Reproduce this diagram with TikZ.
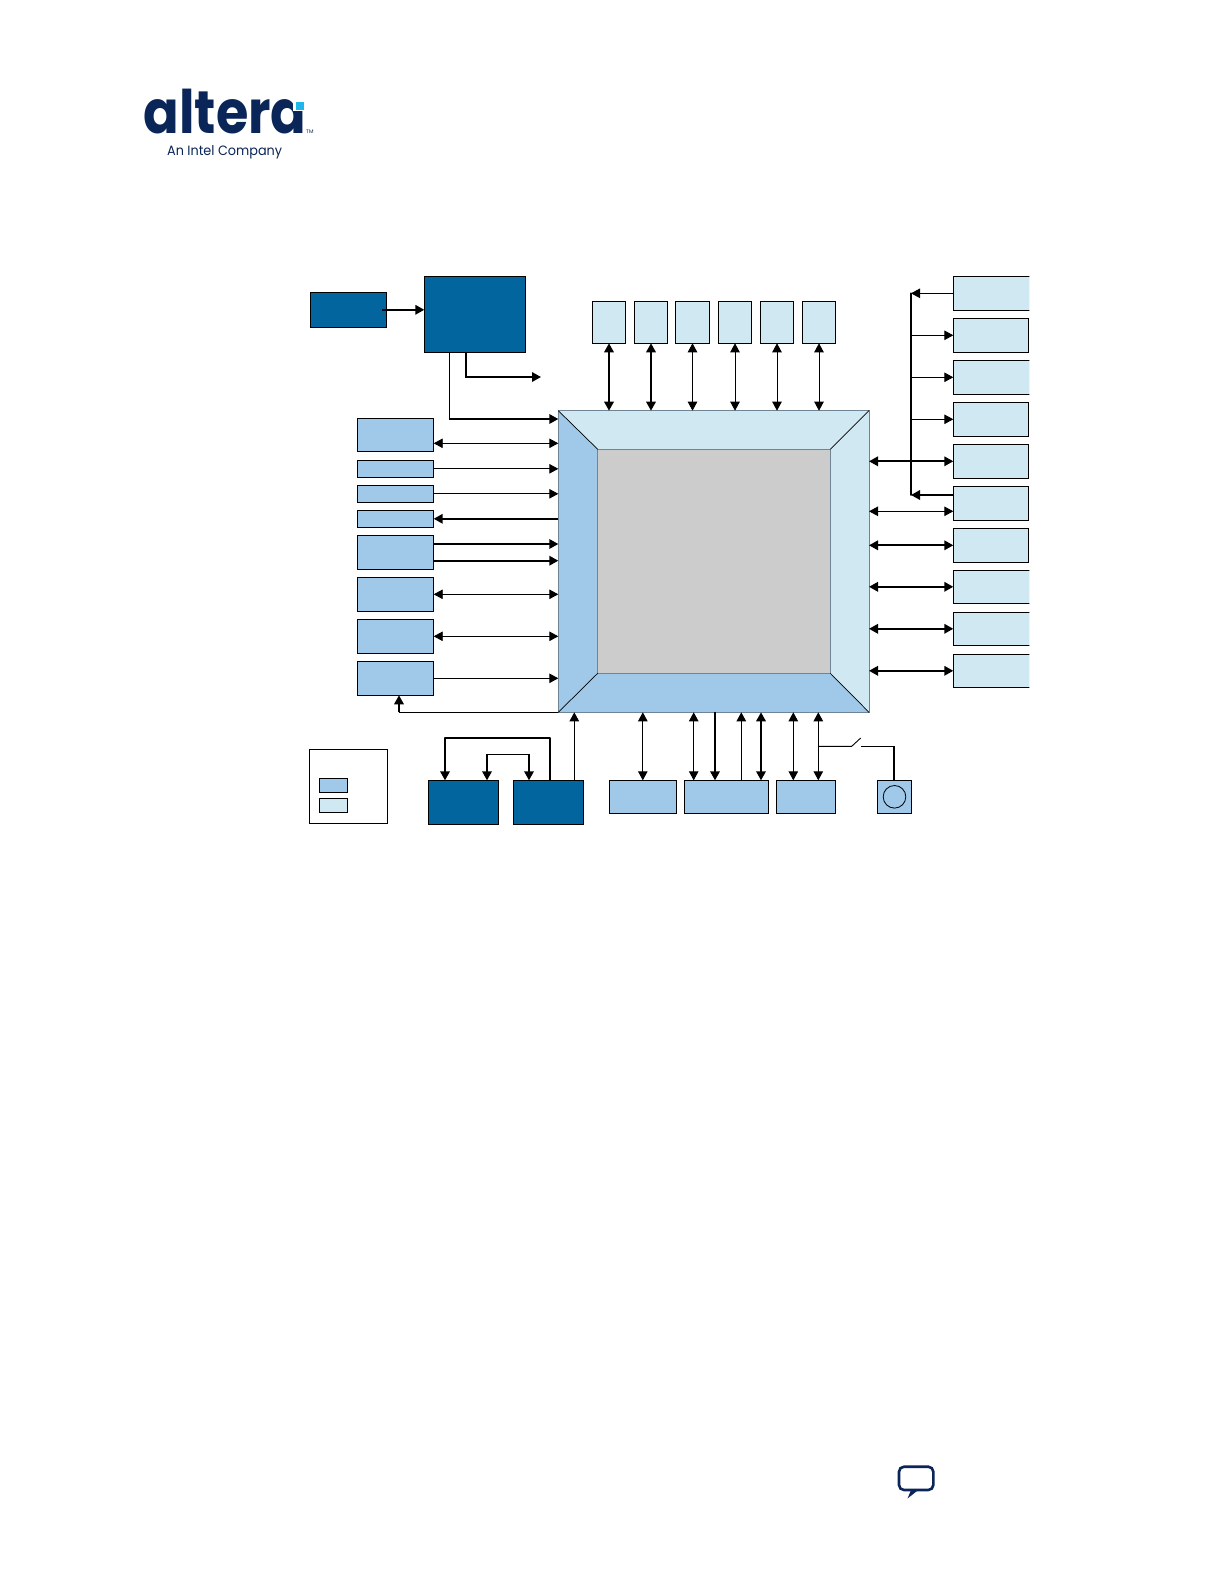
\documentclass[tikz,border=0pt]{standalone}
\usepackage{fontspec}
\setmainfont{Poppins}
\usetikzlibrary{arrows.meta}
\definecolor{ink}{HTML}{0A2558}
\definecolor{logocyan}{HTML}{1FB6EE}
\definecolor{darkb}{HTML}{02659D}
\definecolor{midb}{HTML}{9FC8E9}
\definecolor{lightb}{HTML}{D0E8F1}
\definecolor{coregray}{HTML}{CCCCCC}
\definecolor{coreedge}{HTML}{6F8494}
\tikzset{
  boxbase/.style={draw=black,line width=0.9pt,inner sep=0pt,outer sep=0pt,rectangle},
  darkbox/.style={boxbase,fill=darkb},
  midbox/.style={boxbase,fill=midb},
  lightbox/.style={boxbase,fill=lightb},
  plainbox/.style={boxbase,fill=white},
  thinline/.style={draw=black,line width=0.9pt},
  thickline/.style={draw=black,line width=1.8pt},
  oneway/.style={-{Triangle[length=9pt,width=9.5pt]}},
  twoway/.style={{Triangle[length=9pt,width=9.5pt]}-{Triangle[length=9pt,width=9.5pt]}},
  coreface/.style={draw=coreedge,line width=0.8pt,line join=miter},
  corediag/.style={draw=black,line width=0.7pt},
}
\newcommand{\bx}[6]{%
  \pgfmathsetmacro{\bxw}{#5-#3}\pgfmathsetmacro{\bxh}{#6-#4}%
  \pgfmathsetmacro{\bxcx}{(#3+#5)/2}\pgfmathsetmacro{\bxcy}{(#4+#6)/2}%
  \node[#1,minimum width=\bxw pt,minimum height=\bxh pt] (#2) at (\bxcx,\bxcy) {};}
\begin{document}
\begin{tikzpicture}[x=1pt,y=-1pt]
\useasboundingbox (0,0) rectangle (1224,1584);
\fill[white] (0,0) rectangle (1224,1584);

% logo
\node[inner sep=0pt,anchor=base west,text=ink,xscale=0.875,text depth=0pt] (logo) at (143.5,133.5) {\fontsize{60}{60}\selectfont\bfseries altera};
\fill[white] (293,99) rectangle (306,111);
\fill[logocyan] (295.7,102.3) rectangle (304,110);
\node[inner sep=0pt,anchor=base west,text=ink] (tm) at (306,133.5) {\fontsize{5.2}{5.2}\selectfont TM};
\node[inner sep=0pt,anchor=base west,text=ink,xscale=0.95,text height=10pt] (tag) at (167,155) {\fontsize{13.5}{13.5}\selectfont An Intel Company};

% core
\bx{draw=none,inner sep=0pt,outer sep=0pt,rectangle}{core}{558.3}{410.7}{869}{712.3}
\bx{draw=none,inner sep=0pt,outer sep=0pt,rectangle}{inner}{597.7}{449.3}{830.3}{673.3}
\fill[lightb] (core.north west) -- (core.north east) -- (inner.north east) -- (inner.north west) -- cycle;
\fill[lightb] (core.north east) -- (core.south east) -- (inner.south east) -- (inner.north east) -- cycle;
\fill[midb] (core.north west) -- (core.south west) -- (inner.south west) -- (inner.north west) -- cycle;
\fill[midb] (core.south west) -- (core.south east) -- (inner.south east) -- (inner.south west) -- cycle;
\fill[coregray] (inner.north west) rectangle (inner.south east);
\draw[coreface] (core.north west) rectangle (core.south east);
\draw[coreface] (inner.north west) rectangle (inner.south east);
\draw[corediag] (core.north west) -- (inner.north west);
\draw[corediag] (core.north east) -- (inner.north east);
\draw[corediag] (core.south west) -- (inner.south west);
\draw[corediag] (core.south east) -- (inner.south east);

% top-left dark boxes
\bx{darkbox}{srcbox}{310.3}{292.3}{386.7}{327.3}
\bx{darkbox}{pllbox}{424.3}{276.3}{525.7}{352.7}

% left boxes
\bx{midbox}{lA}{357.3}{418.3}{433.7}{451.3}
\bx{midbox}{lB}{357.3}{460.3}{433.7}{477.3}
\bx{midbox}{lC}{357.3}{485.3}{433.7}{502.3}
\bx{midbox}{lD}{357.3}{510.3}{433.7}{527.3}
\bx{midbox}{lE}{357.3}{535.3}{433.7}{569.3}
\bx{midbox}{lF}{357.3}{577.3}{433.7}{611.3}
\bx{midbox}{lG}{357.3}{619.3}{433.7}{653.3}
\bx{midbox}{lH}{357.3}{661.3}{433.7}{695.3}

% top boxes
\bx{lightbox}{tA}{592.3}{301.3}{625.7}{343.3}
\bx{lightbox}{tB}{634.3}{301.3}{667.7}{343.3}
\bx{lightbox}{tC}{675.3}{301.3}{709.7}{343.3}
\bx{lightbox}{tD}{718.3}{301.3}{751.7}{343.3}
\bx{lightbox}{tE}{760.3}{301.3}{793.7}{343.3}
\bx{lightbox}{tF}{802.3}{301.3}{835.7}{343.3}

% right boxes (some are cut off by the page image at the right)
\begin{scope}
\clip (940,270) rectangle (1029.4,700);
\bx{lightbox}{rA}{953.3}{276.3}{1033}{310.3}
\bx{lightbox}{rC}{953.3}{360.3}{1033}{394.3}
\bx{lightbox}{rH}{953.3}{570.3}{1033}{603.3}
\bx{lightbox}{rI}{953.3}{612.3}{1033}{645.3}
\bx{lightbox}{rJ}{953.3}{654.3}{1033}{687.3}
\end{scope}
\bx{lightbox}{rB}{953.3}{318.3}{1028.7}{352.3}
\bx{lightbox}{rD}{953.3}{402.3}{1028.7}{436.3}
\bx{lightbox}{rE}{953.3}{444.3}{1028.7}{478.3}
\bx{lightbox}{rF}{953.3}{486.3}{1028.7}{520.3}
\bx{lightbox}{rG}{953.3}{528.3}{1028.7}{562.3}

% legend
\bx{plainbox}{legend}{309.3}{749.3}{387.7}{823.7}
\bx{midbox}{legA}{319.3}{778.3}{347.7}{792.7}
\bx{lightbox}{legB}{319.3}{798.3}{347.7}{812.7}

% bottom boxes
\bx{darkbox}{memA}{428.3}{780.3}{498.7}{824.7}
\bx{darkbox}{memB}{513.3}{780.3}{583.7}{824.7}
\bx{midbox}{bA}{609.3}{780.3}{676.3}{813.3}
\bx{midbox}{bB}{684.3}{780.3}{768.7}{813.3}
\bx{midbox}{bC}{776.3}{780.3}{835.7}{813.3}
\bx{midbox}{btn}{877.3}{780.3}{911.7}{813.3}
\node[draw=black,line width=0.8pt,circle,minimum size=22.6pt,inner sep=0pt] (btncirc) at (btn.center) {};

% top-left connectors
\draw[thickline,oneway] ([xshift=-4.7pt]srcbox.east) -- (pllbox.west |- srcbox.east);
\coordinate (freeEnd) at (541,377);
\draw[thickline,oneway] ([xshift=-9.3pt]pllbox.south) |- (freeEnd);
\coordinate (pllCorner) at (449.7,419);
\draw[thinline] ([xshift=-25.3pt]pllbox.south) -- (pllCorner);
\draw[thickline,oneway,shorten <=-0.45pt] (pllCorner) -- (pllCorner -| core.west);

% left connectors
\draw[thinline,twoway] ([yshift=-8.5pt]lA.east) -- ([yshift=-8.5pt]lA.east -| core.west);
\draw[thinline,oneway] (lB.east) -- (lB.east -| core.west);
\draw[thinline,oneway] (lC.east) -- (lC.east -| core.west);
\draw[thickline,oneway] (lD.east -| core.west) -- (lD.east);
\draw[thickline,oneway] ([yshift=8.3pt]lE.east) -- ([yshift=8.3pt]lE.east -| core.west);
\draw[thickline,oneway] ([yshift=-8.4pt]lE.east) -- ([yshift=-8.4pt]lE.east -| core.west);
\draw[thinline,twoway] (lF.east) -- (lF.east -| core.west);
\draw[thinline,twoway] (lG.east) -- (lG.east -| core.west);
\draw[thinline,oneway] (lH.east) -- (lH.east -| core.west);
\coordinate (fbCorner) at (399,712.3);
\draw[thinline] (core.south west) -- (fbCorner);
\draw[thickline,oneway] (fbCorner) -- (fbCorner |- lH.south);

% top connectors
\draw[thickline,twoway] (tA.south) -- (tA.south |- core.north);
\draw[thickline,twoway] (tB.south) -- (tB.south |- core.north);
\draw[thinline,twoway] (tC.south) -- (tC.south |- core.north);
\draw[thinline,twoway] (tD.south) -- (tD.south |- core.north);
\draw[thinline,twoway] (tE.south) -- (tE.south |- core.north);
\draw[thinline,twoway] (tF.south) -- (tF.south |- core.north);

% right bus and connectors
\coordinate (busTop) at (911,293.3);
\coordinate (busBot) at (911,495);
\draw[thickline,line cap=round] (busTop) -- (busBot);
\draw[thinline,oneway] (rA.west) -- (rA.west -| busTop);
\draw[thinline,oneway] (rB.west -| busTop) -- (rB.west);
\draw[thinline,oneway] (rC.west -| busTop) -- (rC.west);
\draw[thinline,oneway] (rD.west -| busTop) -- (rD.west);
\draw[thickline,twoway] (rE.west -| core.east) -- (rE.west);
\draw[thickline,oneway] ([yshift=8.3pt]rF.west) -- (busBot);
\draw[thinline,twoway] ([yshift=-8pt]rF.west -| core.east) -- ([yshift=-8pt]rF.west);
\draw[thickline,twoway] (rG.west -| core.east) -- (rG.west);
\draw[thickline,twoway] (rH.west -| core.east) -- (rH.west);
\draw[thickline,twoway] (rI.west -| core.east) -- (rI.west);
\draw[thickline,twoway] (rJ.west -| core.east) -- (rJ.west);

% bottom-left connectors
\coordinate (outerA) at (445,738);
\coordinate (outerB) at (550,738);
\draw[thickline,oneway,line join=round] (memB.north -| outerB) -- (outerB) -- (outerA) -- (outerA |- memA.north);
\coordinate (innerA) at (487,754.3);
\coordinate (innerB) at (529,754.3);
\draw[thinline] (innerA) -- (innerB);
\draw[thickline,oneway,shorten <=-0.45pt] (innerA) -- (innerA |- memA.north);
\draw[thickline,oneway,shorten <=-0.45pt] (innerB) -- (innerB |- memB.north);
\draw[thinline,oneway] ([xshift=25.8pt]memB.north) -- ([xshift=25.8pt]memB.north |- core.south);

% bottom connectors
\draw[thinline,twoway] (bA.north) -- (bA.north |- core.south);
\draw[thinline,twoway] ([xshift=-32.8pt]bB.north) -- ([xshift=-32.8pt]bB.north |- core.south);
\draw[thickline,oneway] ([xshift=-11.5pt]bB.north |- core.south) -- ([xshift=-11.5pt]bB.north);
\draw[thinline,oneway] ([xshift=14.8pt]bB.north) -- ([xshift=14.8pt]bB.north |- core.south);
\draw[thickline,twoway] ([xshift=34.5pt]bB.north) -- ([xshift=34.5pt]bB.north |- core.south);
\draw[thinline,twoway] ([xshift=-12.7pt]bC.north) -- ([xshift=-12.7pt]bC.north |- core.south);
\draw[thinline,twoway] ([xshift=12.3pt]bC.north) -- ([xshift=12.3pt]bC.north |- core.south);

% switch
\coordinate (swA) at (818.3,746.3);
\coordinate (swB) at (851.7,746.3);
\coordinate (swC) at (860.7,738);
\coordinate (swD) at (861,746.3);
\coordinate (swE) at (894,746.3);
\draw[thinline] (swA) -- (swB) -- (swC);
\draw[thinline] (swD) -- (swE);
\draw[thickline,shorten <=-0.45pt] (swE) -- (swE |- btn.north);

% speech bubble
\draw[ink,line width=2.6pt,rounded corners=5pt] (899,1466.7) rectangle (933.3,1490);
\fill[ink] (919.5,1489) -- (907.5,1498.5) -- (911.5,1489) -- cycle;
\end{tikzpicture}
\end{document}
